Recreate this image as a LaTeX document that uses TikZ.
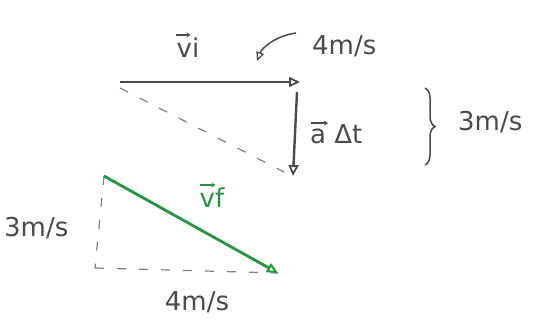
\documentclass[tikz,border=0pt]{standalone}
\usepackage{fontspec}
\setmainfont{DejaVu Sans}
\usetikzlibrary{arrows.meta,decorations.pathreplacing}
\definecolor{pen}{RGB}{75,75,75}
\definecolor{gpen}{RGB}{35,150,65}
\begin{document}
\begin{tikzpicture}[x=1pt,y=-1pt,
  vec/.style={draw=pen,line width=2.4pt,-{Triangle[open,length=11pt,width=10pt,line width=1.8pt]}},
  gvec/.style={draw=gpen,line width=2.8pt,-{Triangle[open,length=11pt,width=10pt,line width=2pt]}},
  guide/.style={draw=pen!70,line width=1.2pt,dash pattern=on 9pt off 13pt},
  over/.style={line width=1.3pt,-{Stealth[length=4pt,width=5pt]}},
  lbl/.style={text=pen,font=\fontsize{26}{30}\selectfont,inner sep=0pt},
  glbl/.style={text=gpen,font=\fontsize{26}{30}\selectfont,inner sep=0pt}]
\useasboundingbox (0,0) rectangle (534,320);
% initial velocity
\coordinate (vi0) at (120,82);
\coordinate (vi1) at (300,82);
\draw[vec] (vi0) -- (vi1);
\node[lbl] (vilab) at (188,48) {vi};
\draw[pen,over] ([xshift=0pt,yshift=3pt]vilab.north west) -- ([xshift=-9pt,yshift=3pt]vilab.north east);
\node[lbl,anchor=west] (v4) at (312,46) {4m/s};
\coordinate (cu0) at (296,33);
\coordinate (cu1) at (257,61);
\draw[pen,line width=1.5pt,-{Triangle[open,length=9pt,width=8pt,line width=1.3pt]}] (cu0) .. controls (275,36) and (262,48) .. (cu1);
% a dt
\coordinate (a0) at (297,92);
\coordinate (a1) at (293,176);
\draw[vec] (a0) -- (a1);
\node[lbl,anchor=west] (adt) at (310,134) {a Δt};
\draw[pen,over] ([xshift=1pt,yshift=1pt]adt.north west) -- ([xshift=18pt,yshift=1pt]adt.north west);
% dashed resultant
\coordinate (d0) at (120,88);
\coordinate (d1) at (284,172);
\draw[guide] (d0) -- (d1);
% brace
\coordinate (b0) at (425,88);
\coordinate (b1) at (425,165);
\draw[pen,line width=1.5pt,decorate,decoration={brace,amplitude=10pt}] (b0) -- (b1);
\node[lbl,anchor=west] (b3) at (458,122) {3m/s};
% final velocity triangle
\coordinate (f0) at (104,176);
\coordinate (f1) at (278,273);
\coordinate (fc) at (95,268);
\draw[guide] (f0) -- (fc);
\draw[guide] (fc) -- (f1);
\draw[gvec] (f0) -- (f1);
\node[glbl] (vflab) at (212,198) {vf};
\draw[gpen,over] ([xshift=0pt,yshift=3pt]vflab.north west) -- ([xshift=-9pt,yshift=3pt]vflab.north east);
\node[lbl,anchor=west] (l3) at (4,228) {3m/s};
\node[lbl] (l4) at (197,302) {4m/s};
\end{tikzpicture}
\end{document}
